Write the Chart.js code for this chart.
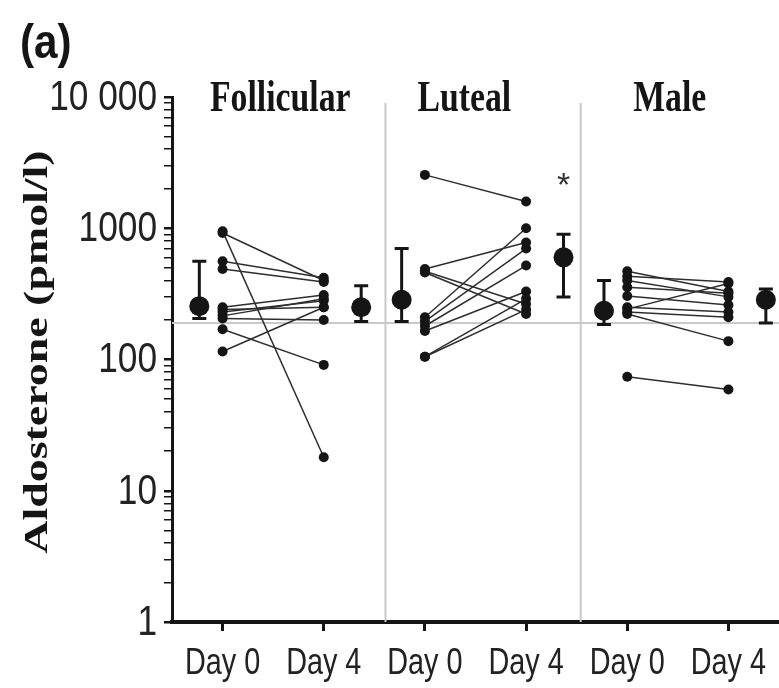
<!DOCTYPE html>
<html>
<head>
<meta charset="utf-8">
<script src="https://cdn.jsdelivr.net/npm/chart.js@4.4.1/dist/chart.umd.min.js"></script>
<style>
  html, body { margin: 0; padding: 0; background: #fff; }
</style>
</head>
<body>
<canvas id="aldoChart" width="779" height="688"></canvas>
<script>
const tickLabels = ['Day 0', 'Day 4', 'Day 0', 'Day 4', 'Day 0', 'Day 4'];
const groups = ['Follicular', 'Luteal', 'Male'];
const yTicks = [1, 10, 100, 1000, 10000];
const yTickLabels = ['1', '10', '100', '1000', '10 000'];

// individual subjects (pmol/l), day 0 paired with day 4
const follDay0 = [950, 920, 560, 490, 250, 240, 230, 215, 205, 170, 115];
const follDay4 = [18, 400, 420, 390, 310, 250, 280, 290, 200, 91, 250];
const lutDay0 = [2550, 490, 470, 460, 210, 195, 180, 165, 105, 105];
const lutDay4 = [1600, 780, 265, 222, 1000, 700, 520, 330, 290, 240];
const maleDay0 = [470, 430, 400, 355, 305, 242, 230, 222, 74, 250];
const maleDay4 = [330, 390, 300, 320, 260, 380, 210, 138, 59, 230];

// group mean with error bar
const meanDay0 = [255, 285, 235];
const lowDay0 = [205, 195, 185];
const highDay0 = [560, 700, 400];
const meanDay4 = [250, 600, 285];
const lowDay4 = [195, 300, 190];
const highDay4 = [365, 900, 345];

const refLevel = 190;      // horizontal reference line
const starValue = 2300;    // significance mark over luteal day 4

// layout in x-axis units
const meanShift0 = -0.23;
const meanShift4 = 0.37;
const dividers = [1.61, 3.54];
const titleX = [0.57, 2.39, 4.42];

const ink = '#151515';

const subjects = [[follDay0, follDay4], [lutDay0, lutDay4], [maleDay0, maleDay4]];
const datasets = [];
subjects.forEach(([d0, d4], g) => {
  d0.forEach((v, i) => {
    datasets.push({
      data: [{ x: g * 2, y: v }, { x: g * 2 + 1, y: d4[i] }],
      showLine: true,
      borderColor: '#2e2e2e',
      borderWidth: 1.5,
      pointRadius: 5,
      pointBorderWidth: 0,
      pointBackgroundColor: ink
    });
  });
});
const meanPoints = [];
groups.forEach((g, i) => {
  meanPoints.push({ x: i * 2 + meanShift0, y: meanDay0[i], lo: lowDay0[i], hi: highDay0[i] });
  meanPoints.push({ x: i * 2 + 1 + meanShift4, y: meanDay4[i], lo: lowDay4[i], hi: highDay4[i] });
});
datasets.push({
  data: meanPoints,
  showLine: false,
  pointRadius: 10,
  pointBorderWidth: 0,
  pointBackgroundColor: ink
});

// condensed text, like the narrow typeface of the original figure
function squeezed(ctx, text, px, py, sx, sy) {
  ctx.save();
  ctx.translate(px, py);
  ctx.scale(sx, sy);
  ctx.fillText(text, 0, 0);
  ctx.restore();
}

const decorations = {
  id: 'decorations',
  beforeDatasetsDraw(chart) {
    const { ctx, chartArea: a, scales: { x, y } } = chart;
    ctx.save();
    ctx.strokeStyle = '#c9c9c9';
    ctx.lineWidth = 2;
    dividers.forEach(d => {
      const px = x.getPixelForValue(d);
      ctx.beginPath();
      ctx.moveTo(px, a.top + 6);
      ctx.lineTo(px, a.bottom);
      ctx.stroke();
    });
    const ry = y.getPixelForValue(refLevel);
    ctx.beginPath();
    ctx.moveTo(a.left, ry);
    ctx.lineTo(a.right, ry);
    ctx.stroke();

    // error bars
    ctx.strokeStyle = ink;
    ctx.lineWidth = 3;
    meanPoints.forEach(p => {
      const px = x.getPixelForValue(p.x);
      const top = y.getPixelForValue(p.hi);
      const bot = y.getPixelForValue(p.lo);
      ctx.beginPath();
      ctx.moveTo(px, top);
      ctx.lineTo(px, bot);
      ctx.moveTo(px - 7, top);
      ctx.lineTo(px + 7, top);
      ctx.moveTo(px - 7, bot);
      ctx.lineTo(px + 7, bot);
      ctx.stroke();
    });
    ctx.restore();
  },
  afterDraw(chart) {
    const { ctx, chartArea: a, scales: { x, y } } = chart;
    ctx.save();
    ctx.fillStyle = ink;
    ctx.textAlign = 'center';
    ctx.textBaseline = 'middle';

    // tick labels
    ctx.fillStyle = '#222';
    ctx.font = '36px "Liberation Sans"';
    tickLabels.forEach((t, i) => squeezed(ctx, t, x.getPixelForValue(i), a.bottom + 42, 0.8, 1));
    ctx.textAlign = 'right';
    ctx.font = '43px "Liberation Sans"';
    yTicks.forEach((v, i) => squeezed(ctx, yTickLabels[i], a.left - 15, y.getPixelForValue(v) + 1, 0.82, 1));

    // panel titles, condensed serif
    ctx.fillStyle = ink;
    ctx.textAlign = 'center';
    ctx.font = 'bold 45px "Liberation Serif"';
    groups.forEach((g, i) => squeezed(ctx, g, x.getPixelForValue(titleX[i]), a.top + 2, 0.75, 1));

    // y title
    ctx.save();
    ctx.translate(38, 352);
    ctx.rotate(-Math.PI / 2);
    ctx.scale(1.35, 1);
    ctx.font = 'bold 34px "Liberation Serif"';
    ctx.fillText('Aldosterone (pmol/l)', 0, 0);
    ctx.restore();

    // panel letter
    ctx.textAlign = 'left';
    ctx.font = 'bold 48px "Liberation Sans"';
    squeezed(ctx, '(a)', 20, 45, 0.88, 1);

    // significance star
    ctx.textAlign = 'center';
    ctx.font = '34px "Liberation Sans"';
    ctx.fillStyle = '#333';
    ctx.fillText('*', x.getPixelForValue(3 + meanShift4), y.getPixelForValue(starValue) + 6);
    ctx.restore();
  }
};

new Chart(document.getElementById('aldoChart'), {
  type: 'scatter',
  data: { datasets: datasets },
  plugins: [decorations],
  options: {
    responsive: false,
    animation: false,
    layout: { autoPadding: false, padding: { top: 97, left: 0, right: 0, bottom: 0 } },
    plugins: {
      legend: { display: false },
      tooltip: { enabled: false }
    },
    scales: {
      x: {
        type: 'linear',
        min: -0.5,
        max: 5.5,
        afterBuildTicks: scale => {
          scale.ticks = tickLabels.map((t, i) => ({ value: i }));
        },
        afterFit: scale => { scale.height = 66; },
        border: { display: true, color: ink, width: 4 },
        grid: { drawOnChartArea: false, drawTicks: true, tickLength: 9, color: ink, lineWidth: 3 },
        ticks: { display: false }
      },
      y: {
        type: 'logarithmic',
        min: 1,
        max: 10000,
        afterBuildTicks: scale => {
          const t = [];
          yTicks.forEach((d, i) => {
            if (i === yTicks.length - 1) { t.push({ value: d }); return; }
            for (let m = 1; m < 10; m++) t.push({ value: d * m });
          });
          scale.ticks = t;
        },
        afterFit: scale => { scale.width = 172; },
        border: { display: true, color: ink, width: 3 },
        grid: {
          drawOnChartArea: false,
          drawTicks: true,
          tickLength: 8,
          color: ink,
          lineWidth: c => (yTicks.includes(c.tick.value) ? 2.5 : 1.5)
        },
        ticks: { display: false }
      }
    }
  }
});
</script>
</body>
</html>
